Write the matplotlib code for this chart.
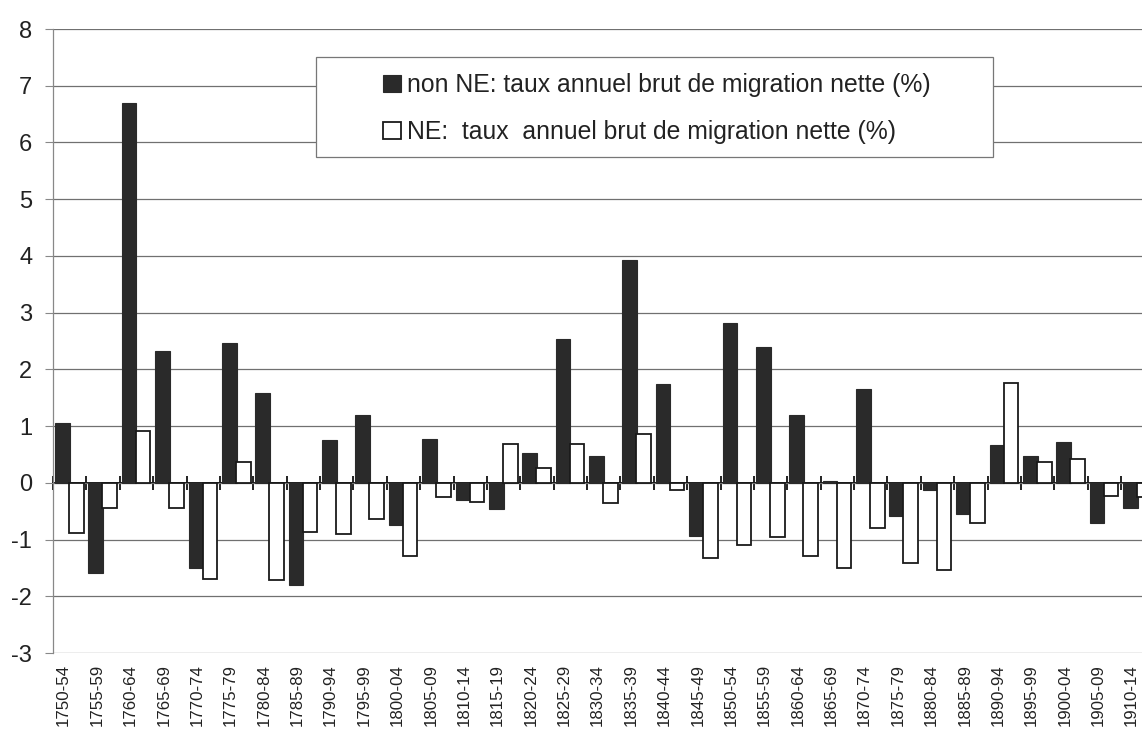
import matplotlib
matplotlib.use("Agg")
import matplotlib.pyplot as plt
import matplotlib.transforms as mtransforms
from matplotlib.patches import Rectangle
import numpy as np

periods = ["1750-54", "1755-59", "1760-64", "1765-69", "1770-74", "1775-79", "1780-84",
           "1785-89", "1790-94", "1795-99", "1800-04", "1805-09", "1810-14", "1815-19",
           "1820-24", "1825-29", "1830-34", "1835-39", "1840-44", "1845-49", "1850-54",
           "1855-59", "1860-64", "1865-69", "1870-74", "1875-79", "1880-84", "1885-89",
           "1890-94", "1895-99", "1900-04", "1905-09", "1910-14"]

non_ne = [1.06, -1.59, 6.70, 2.33, -1.50, 2.46, 1.58, -1.81, 0.76, 1.19, -0.74, 0.78,
          -0.31, -0.46, 0.52, 2.53, 0.47, 3.93, 1.74, -0.93, 2.82, 2.40, 1.20, 0.03,
          1.66, -0.58, -0.12, -0.55, 0.67, 0.47, 0.72, -0.70, -0.44]

ne = [-0.88, -0.45, 0.92, -0.45, -1.70, 0.37, -1.72, -0.87, -0.90, -0.64, -1.29, -0.25,
      -0.33, 0.69, 0.26, 0.69, -0.35, 0.86, -0.12, -1.33, -1.09, -0.95, -1.29, -1.50,
      -0.80, -1.41, -1.53, -0.71, 1.76, 0.37, 0.42, -0.23, -0.25]

label_non_ne = "non NE: taux annuel brut de migration nette (%)"
label_ne = "NE:  taux  annuel brut de migration nette (%)"

plt.rcParams['font.family'] = ['Liberation Sans', 'DejaVu Sans']
plt.rcParams['axes.unicode_minus'] = False

W, H = 1142, 729
fig = plt.figure(figsize=(W / 100, H / 100), dpi=100)
ax = fig.add_axes([53 / W, 1 - 653 / H, 1 - 53 / W, (653 - 29) / H])

x = np.arange(len(periods))
bw = 0.44
b1 = ax.bar(x - 0.22, non_ne, bw, color='#2a2a2a', edgecolor='#2a2a2a', linewidth=0.8,
            zorder=3, label=label_non_ne)
b2 = ax.bar(x + 0.2, ne, bw, color='white', edgecolor='#1a1a1a', linewidth=1.3,
            zorder=3, label=label_ne)

ax.set_ylim(-3, 8)
ax.set_xlim(-0.5, -0.5 + (W - 53) / 33.375)
ax.set_yticks(range(-3, 9))
ax.yaxis.grid(True, color='#707070', linewidth=0.9, zorder=0)
ax.set_axisbelow(True)

for s in ['top', 'right', 'bottom']:
    ax.spines[s].set_visible(False)
ax.spines['left'].set_color('#888888')
ax.spines['left'].set_linewidth(0.9)

ax.tick_params(axis='y', direction='out', length=6, width=0.8, color='#888888',
               labelsize=17, pad=9, labelcolor='#222222')
ax.set_xticks(x)
ax.set_xticklabels(periods, rotation=90, fontsize=12.2, color='#222222')
ax.tick_params(axis='x', length=0, pad=8)
offset = mtransforms.ScaledTranslation(-6 / 100, 0, fig.dpi_scale_trans)
for lbl in ax.get_xticklabels():
    lbl.set_transform(lbl.get_transform() + offset)

# zero line with cross ticks between groups
sec = ax.secondary_xaxis(3 / 11)
sec.set_xticks(np.arange(len(periods) + 1) - 0.5)
sec.tick_params(direction='inout', length=9.5, width=1.3, color='#111111', labelbottom=False)
sec.spines['bottom'].set_linewidth(1.4)
sec.spines['bottom'].set_color('#111111')

# legend box
box = Rectangle((316 / W, 1 - 157 / H), (993 - 316) / W, 100 / H, transform=fig.transFigure,
                facecolor='white', edgecolor='#777777', linewidth=0.9, zorder=4)
ax.add_patch(box)
box.set_clip_on(False)
leg = ax.legend(handles=[b1, b2], loc='upper left', bbox_to_anchor=(383 / W, 1 - 73 / H),
                bbox_transform=fig.transFigure, frameon=False, fontsize=17.8,
                handlelength=0.73, handleheight=0.69, handletextpad=0.24,
                labelspacing=0.95, borderpad=0, borderaxespad=0)
leg.set_zorder(5)
for t in leg.get_texts():
    t.set_color('#222222')

fig.savefig("out.png", dpi=100)
